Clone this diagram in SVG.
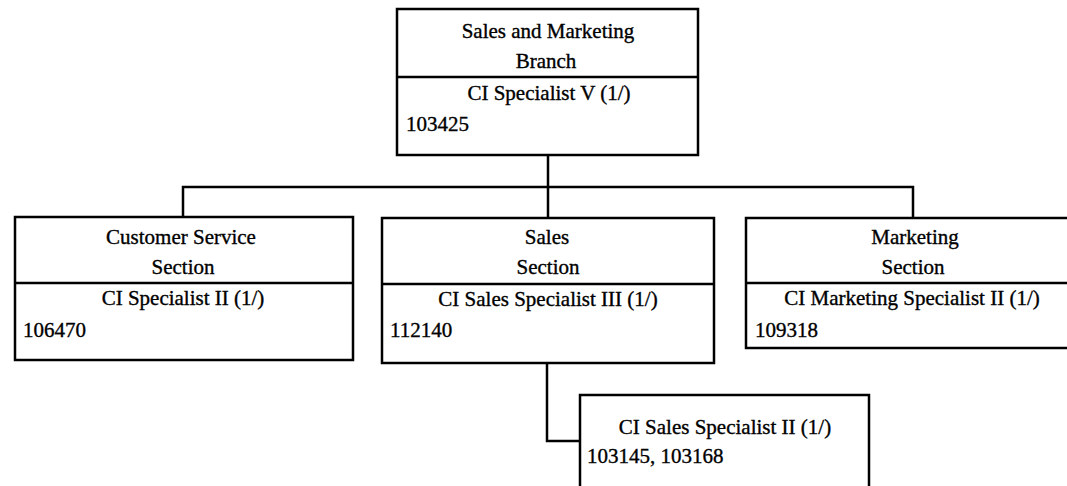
<svg xmlns="http://www.w3.org/2000/svg" width="1067" height="486" viewBox="0 0 1067 486">
<style>
.box{fill:none;stroke:#000;stroke-width:2.5}
.conn{fill:none;stroke:#000;stroke-width:2.5}
text{font-family:"Liberation Serif","Times New Roman",serif;font-size:21px;fill:#000;stroke:#000;stroke-width:0.35}
.c{text-anchor:middle}
</style>
<rect width="1067" height="486" fill="#fff"/>
<g id="connectors">
<path class="conn" d="M548 155V187M183 217V187H913V218M548 187V218"/>
<path class="conn" d="M547 363V441H580"/>
</g>
<g id="branch">
<rect class="box" x="397" y="9" width="301" height="146"/>
<line class="box" x1="397" y1="77" x2="698" y2="77"/>
<text class="c" x="548" y="38">Sales and Marketing</text>
<text class="c" x="546" y="68">Branch</text>
<text class="c" x="549" y="100">CI Specialist V (1/)</text>
<text x="406" y="131">103425</text>
</g>
<g id="customer-service">
<rect class="box" x="15" y="217" width="338" height="143"/>
<line class="box" x1="15" y1="283" x2="353" y2="283"/>
<text class="c" x="181" y="244">Customer Service</text>
<text class="c" x="183" y="274">Section</text>
<text class="c" x="183" y="305">CI Specialist II (1/)</text>
<text x="23" y="337">106470</text>
</g>
<g id="sales">
<rect class="box" x="382" y="218" width="332" height="145"/>
<line class="box" x1="382" y1="284" x2="714" y2="284"/>
<text class="c" x="547" y="244">Sales</text>
<text class="c" x="548" y="274">Section</text>
<text class="c" x="548" y="306">CI Sales Specialist III (1/)</text>
<text x="390" y="337">112140</text>
</g>
<g id="marketing">
<path class="box" d="M1070 218H746V348H1070"/>
<line class="box" x1="746" y1="283" x2="1070" y2="283"/>
<text class="c" x="915" y="244">Marketing</text>
<text class="c" x="913" y="274">Section</text>
<text class="c" x="912" y="305">CI Marketing Specialist II (1/)</text>
<text x="755" y="337">109318</text>
</g>
<g id="sales-specialist">
<path class="box" d="M580 490V395H869V490"/>
<text class="c" x="725" y="434">CI Sales Specialist II (1/)</text>
<text x="587" y="463">103145, 103168</text>
</g>
</svg>
